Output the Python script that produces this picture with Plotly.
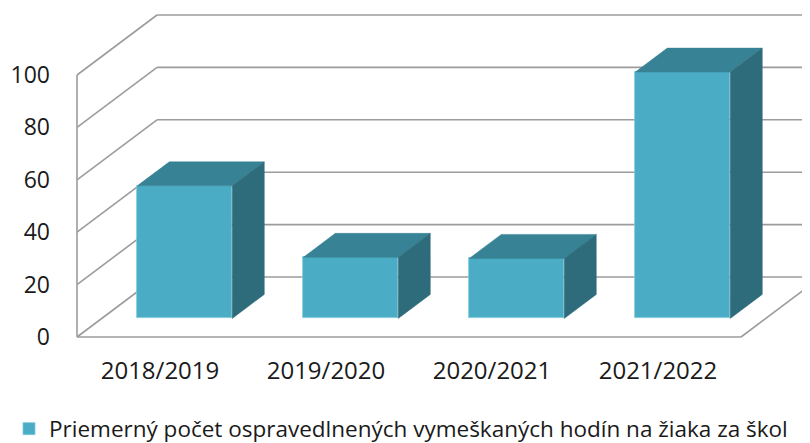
import plotly.graph_objects as go

# ---- data ----
categories = ["2018/2019", "2019/2020", "2020/2021", "2021/2022"]
values = [50.6, 23.3, 22.9, 94.0]
y_ticks = [0, 20, 40, 60, 80, 100]
series_name = "Priemerný počet ospravedlnených vymeškaných hodín na žiaka za škol"

# ---- 3D-look geometry (in axis units) ----
PX_PER_CAT = 166.0
PX_PER_VAL = 2.62
DX = 80 / PX_PER_CAT   # depth vector, x part (category units)
DY = 60 / PX_PER_VAL   # depth vector, y part (value units)
F0 = 0.31              # bar front plane depth fraction
BD = 0.40              # bar depth fraction
BW = 0.572             # bar width (category units)

FRONT = "#4BACC6"
TOP = "#378395"
SIDE = "#2E6B7B"
GRID = "#9C9C9C"
FONT = "Open Sans"

W, H = 802, 435               # page body has an 8px margin
L, B = 62, 98
plot_w, plot_h = W - L, H - B
x_min = -0.5 - 7 / PX_PER_CAT
x_max = x_min + plot_w / PX_PER_CAT
y_min = -8 / PX_PER_VAL
y_max = y_min + plot_h / PX_PER_VAL

fig = go.Figure()

shapes = []
lw = dict(color=GRID, width=1.6)
x0 = -0.5
xend = len(categories) - 0.5
shapes.append(dict(type="line", xref="x", yref="y", x0=x0, y0=y_ticks[0], x1=x0, y1=y_ticks[-1], line=lw, layer="below"))
for v in y_ticks:
    shapes.append(dict(type="line", xref="x", yref="y", x0=x0, y0=v, x1=x0 + DX, y1=v + DY, line=lw, layer="below"))
    shapes.append(dict(type="line", xref="x", yref="y", x0=x0 + DX, y0=v + DY, x1=x_max + 1, y1=v + DY, line=lw, layer="below"))
shapes.append(dict(type="line", xref="x", yref="y", x0=x0, y0=0, x1=xend, y1=0, line=lw, layer="below"))
shapes.append(dict(type="line", xref="x", yref="y", x0=xend, y0=0, x1=xend + DX, y1=DY, line=lw, layer="below"))

xs = [i + F0 * DX for i in range(len(categories))]
fig.add_trace(go.Bar(
    x=xs, y=values, base=F0 * DY, width=BW,
    marker=dict(color=FRONT, line=dict(color="#7FC8DC", width=0.8)),
    name=series_name, showlegend=True,
))

for xc, v in zip(xs, values):
    xl, xr = xc - BW / 2, xc + BW / 2
    b, t = F0 * DY, F0 * DY + v
    ddx, ddy = BD * DX, BD * DY
    fig.add_trace(go.Scatter(
        x=[xl, xr, xr + ddx, xl + ddx, xl], y=[t, t, t + ddy, t + ddy, t],
        fill="toself", fillcolor=TOP, mode="lines", line=dict(color=TOP, width=0.5),
        showlegend=False, hoverinfo="skip"))
    fig.add_trace(go.Scatter(
        x=[xr, xr + ddx, xr + ddx, xr, xr], y=[b, b + ddy, t + ddy, t, b],
        fill="toself", fillcolor=SIDE, mode="lines", line=dict(color=SIDE, width=0.5),
        showlegend=False, hoverinfo="skip"))

fig.update_layout(
    width=W, height=H,
    margin=dict(l=L, r=0, t=0, b=B, pad=0, autoexpand=False),
    paper_bgcolor="white", plot_bgcolor="white",
    shapes=shapes,
    font=dict(family=FONT, size=23, color="#1a1a1a"),
    xaxis=dict(range=[x_min, x_max], tickvals=list(range(len(categories))), ticktext=categories,
               showgrid=False, zeroline=False, showline=False, ticks="", automargin=False,
               ticklabelstandoff=9, tickfont=dict(size=24)),
    yaxis=dict(range=[y_min, y_max], tickvals=y_ticks, showgrid=False, zeroline=False, automargin=False,
               showline=False, ticks="", ticklabelstandoff=19, tickfont=dict(size=23)),
    legend=dict(orientation="h", x=(1 - L) / plot_w, xanchor="left", y=(plot_h - 421) / plot_h,
                yanchor="middle", font=dict(size=22.5), bgcolor="rgba(0,0,0,0)"),
    showlegend=True,
    bargap=0,
)

fig.write_html("out.html")
